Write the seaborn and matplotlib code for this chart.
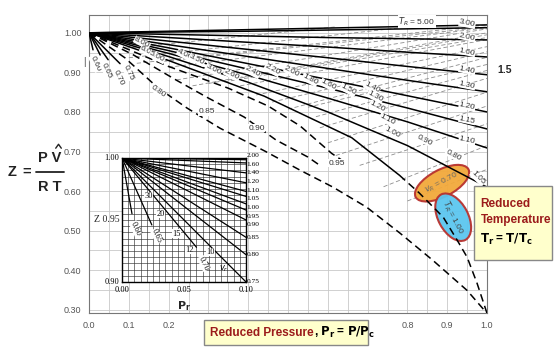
import numpy as np
import pandas as pd
import matplotlib
matplotlib.use("Agg")
import matplotlib.pyplot as plt
import seaborn as sns
from matplotlib.patches import Ellipse, Rectangle
from matplotlib.lines import Line2D

sns.set_theme(style="white")
plt.rcParams["font.family"] = ["Liberation Sans", "DejaVu Sans"]

# ---------------- main chart data ----------------
# solid isotherms T_R >= 1.05, Z at these reduced pressures
pr_grid = [0.0, 0.2, 0.4, 0.6, 0.8, 1.0]
tr_solid = ["5.00", "3.00", "2.00", "1.60", "1.40", "1.30", "1.20", "1.15", "1.10", "1.05"]
z_solid = [
    [1.0, 1.004, 1.008, 1.012, 1.016, 1.020],
    [1.0, 1.002, 1.004, 1.007, 1.010, 1.013],
    [1.0, 0.996, 0.992, 0.988, 0.985, 0.982],
    [1.0, 0.988, 0.976, 0.964, 0.951, 0.939],
    [1.0, 0.979, 0.958, 0.937, 0.915, 0.894],
    [1.0, 0.970, 0.940, 0.910, 0.880, 0.851],
    [1.0, 0.962, 0.922, 0.882, 0.841, 0.800],
    [1.0, 0.955, 0.908, 0.860, 0.810, 0.757],
    [1.0, 0.948, 0.893, 0.835, 0.775, 0.709],
    [1.0, 0.940, 0.875, 0.800, 0.715, 0.610],
]
# right-edge labels of those isotherms
tr_lab_x = [0.95, 0.95, 0.95, 0.95, 0.95, 0.95, 0.95, 0.95, 0.95, 0.977]
tr_lab_z = [1.023, 0.990, 0.952, 0.906, 0.868, 0.815, 0.780, 0.729, 0.633]

# T_R = 1.00: solid part then dashed down to the critical point
pr_tr100 = [0.0, 0.2, 0.44, 0.66, 0.78]
z_tr100 = [1.0, 0.930, 0.840, 0.735, 0.640]
pr_tr100_d = [0.78, 0.83, 0.89, 0.925, 0.95, 0.975, 1.0]
z_tr100_d = [0.640, 0.595, 0.534, 0.476, 0.433, 0.367, 0.291]

# heavy dashed lines
pr_tr095 = [0.0, 0.2, 0.35, 0.45, 0.53, 0.61, 0.64]
z_tr095 = [1.0, 0.915, 0.860, 0.815, 0.765, 0.695, 0.675]
pr_tr090 = [0.0, 0.11, 0.22, 0.30, 0.39, 0.47, 0.55, 0.58]
z_tr090 = [1.0, 0.945, 0.880, 0.835, 0.787, 0.729, 0.686, 0.665]
pr_sat = [0.0, 0.09, 0.173, 0.246, 0.329, 0.442, 0.53, 0.613, 0.698, 0.781, 0.864, 0.95, 1.0]
z_sat = [1.0, 0.937, 0.861, 0.810, 0.759, 0.701, 0.653, 0.610, 0.559, 0.494, 0.425, 0.349, 0.291]
dash_lab = ["0.80", "0.85", "0.90", "0.95"]
dash_lab_x = [0.175, 0.296, 0.422, 0.623]
dash_lab_z = [0.851, 0.800, 0.759, 0.671]

# short steep isotherms near the origin
short_tr = ["0.60", "0.65", "0.70", "0.75"]
short_pr_end = [0.010, 0.028, 0.048, 0.078]
short_z_end = [0.957, 0.944, 0.932, 0.922]
short_lab_x = [0.015, 0.043, 0.075, 0.098]
short_lab_z = [0.922, 0.905, 0.885, 0.900]

# reduced volume lines (light dashed)
vr_labels = ["8.00", "6.00", "5.00", "4.00", "3.50", "3.00", "2.60", "2.40", "2.20", "2.00",
             "1.80", "1.60", "1.50", "1.40", "1.30", "1.20", "1.10", "1.00", "0.90", "0.80", "0.70"]
vr_lab_x = [0.133, 0.148, 0.171, 0.241, 0.271, 0.312, 0.359, 0.410, 0.460, 0.510,
            0.555, 0.601, 0.651, 0.711, 0.719, 0.724, 0.749, 0.761, 0.844, 0.915, 0.920]
vr_lab_z = [0.975, 0.952, 0.939, 0.944, 0.932, 0.906, 0.894, 0.901, 0.906, 0.901,
            0.881, 0.868, 0.856, 0.861, 0.838, 0.813, 0.780, 0.747, 0.729, 0.691, 0.633]
vr_x0 = [0.09, 0.10, 0.12, 0.17, 0.20, 0.22, 0.26, 0.30, 0.34, 0.38,
         0.42, 0.46, 0.50, 0.55, 0.57, 0.58, 0.60, 0.62, 0.68, 0.74, 0.80]
vr_z0 = [0.961, 0.937, 0.923, 0.926, 0.913, 0.881, 0.866, 0.872, 0.876, 0.866,
         0.843, 0.825, 0.807, 0.812, 0.788, 0.760, 0.722, 0.690, 0.665, 0.611, 0.575]
vr_x1 = [0.62, 0.83, 1.0, 1.0, 1.0, 1.0, 1.0, 1.0, 1.0, 1.0,
         1.0, 1.0, 1.0, 1.0, 1.0, 1.0, 1.0, 1.0, 1.0, 1.0, 1.0]
vr_z1 = [1.015, 1.018, 1.020, 1.015, 1.013, 1.010, 1.000, 0.995, 0.988, 0.983,
         0.965, 0.952, 0.938, 0.920, 0.905, 0.885, 0.850, 0.815, 0.770, 0.715, 0.655]

# x tick labels hidden behind the pressure box in the picture
x_ticks = [0.0, 0.1, 0.2, 0.3, 0.4, 0.5, 0.6, 0.7, 0.8, 0.9, 1.0]
x_tick_labels = ["0.0", "0.1", "0.2", "", "", "", "", "", "0.8", "0.9", "1.0"]
y_ticks = [0.3, 0.4, 0.5, 0.6, 0.7, 0.8, 0.9, 1.0]
y_tick_labels = ["0.30", "0.40", "0.50", "0.60", "0.70", "0.80", "0.90", "1.00"]

# ---------------- inset data ----------------
in_tr = ["2.00", "1.60", "1.40", "1.20", "1.10", "1.05", "1.00", "0.95", "0.90", "0.85", "0.80", "0.75"]
in_z_end = [0.9986, 0.996, 0.988, 0.980, 0.973, 0.969, 0.963, 0.958, 0.950, 0.936, 0.922, 0.900]
in_lab_z = [1.002, 0.995, 0.988, 0.981, 0.974, 0.967, 0.960, 0.953, 0.946, 0.936, 0.922, 0.900]
in_short_tr = ["0.70", "0.65", "0.60"]
in_short_pr = [0.060, 0.024, 0.008]
in_short_z = [0.928, 0.946, 0.955]
in_short_lab_x = [0.066, 0.028, 0.011]
in_short_lab_z = [0.915, 0.937, 0.943]
in_vr = ["30", "20", "15", "12", "10"]
in_vr_x = [0.0215, 0.031, 0.044, 0.054, 0.071]
in_vr_z = [0.969, 0.955, 0.939, 0.926, 0.924]

# ---------------- figure ----------------
fig = plt.figure(figsize=(5.6, 3.58), dpi=100)
ax = fig.add_axes([0.159, 0.1257, 0.7107, 0.8324])
ax.set_xlim(0, 1.0)
ax.set_ylim(0.292, 1.045)

ax.set_xticks(x_ticks)
ax.set_xticklabels(x_tick_labels)
ax.set_yticks(y_ticks)
ax.set_yticklabels(y_tick_labels)
ax.set_xticks(np.arange(0.05, 1.0, 0.1), minor=True)
ax.set_yticks(np.arange(0.35, 1.04, 0.1), minor=True)
ax.grid(which="both", color="#c9c9c9", lw=0.6)
ax.tick_params(which="both", labelsize=6.5, colors="#555555", length=2)
ax.tick_params(axis="x", pad=3.5)
for s in ax.spines.values():
    s.set_color("#777777")
    s.set_linewidth(0.8)

# light reduced-volume dashes
vr_rows = []
for i, lab in enumerate(vr_labels):
    vr_rows.append({"curve": lab, "pr": vr_x0[i], "z": vr_z0[i]})
    vr_rows.append({"curve": lab, "pr": vr_x1[i], "z": vr_z1[i]})
sns.lineplot(data=pd.DataFrame(vr_rows), x="pr", y="z", units="curve", estimator=None,
             sort=False, color="#8c8c8c", lw=0.6, linestyle=(0, (5, 3)), ax=ax, zorder=2)

# solid isotherms
rows = []
for lab, zs in zip(tr_solid, z_solid):
    for p, z in zip(pr_grid, zs):
        rows.append({"curve": lab, "pr": p, "z": z})
for p, z in zip(pr_tr100, z_tr100):
    rows.append({"curve": "1.00", "pr": p, "z": z})
for lab, p1, z1 in zip(short_tr, short_pr_end, short_z_end):
    rows.append({"curve": "s" + lab, "pr": 0.0, "z": 1.0})
    rows.append({"curve": "s" + lab, "pr": p1, "z": z1})
sns.lineplot(data=pd.DataFrame(rows), x="pr", y="z", units="curve", estimator=None,
             sort=False, color="black", lw=1.1, ax=ax, zorder=4)

# heavy dashed lines
drows = []
for name, xs, zs in [("0.95", pr_tr095, z_tr095), ("0.90", pr_tr090, z_tr090),
                     ("sat", pr_sat, z_sat), ("1.00d", pr_tr100_d, z_tr100_d)]:
    for p, z in zip(xs, zs):
        drows.append({"curve": name, "pr": p, "z": z})
sns.lineplot(data=pd.DataFrame(drows), x="pr", y="z", units="curve", estimator=None,
             sort=False, color="black", lw=1.1, linestyle=(0, (5, 3)), ax=ax, zorder=4)
ax.set_xlabel("")
ax.set_ylabel("")

lab_kw = dict(fontsize=6, color="#333333", ha="center", va="center", zorder=5,
              bbox=dict(facecolor="white", edgecolor="none", pad=0.2))
for lab, x, z in zip(vr_labels[:-1], vr_lab_x[:-1], vr_lab_z[:-1]):
    ax.text(x, z, lab, rotation=-28, **lab_kw)
for lab, x, z in zip(tr_solid[1:], tr_lab_x[1:], tr_lab_z):
    ax.text(x, z, lab, rotation=-12 if lab != "1.05" else -45, **lab_kw)
for lab, x, z in zip(dash_lab, dash_lab_x, dash_lab_z):
    ax.text(x, z, lab, rotation=-35 if lab == "0.80" else 0, **lab_kw)
for lab, x, z in zip(short_tr, short_lab_x, short_lab_z):
    ax.text(x, z, lab, rotation=-65, **lab_kw)
ax.text(0.824, 1.028, r"$T_R$ = 5.00", **lab_kw)

# highlighted labels
ax.add_patch(Ellipse((0.887, 0.620), 0.15, 0.068, angle=28, facecolor="#F2A93B",
                     edgecolor="#B8322E", lw=1.5, alpha=0.95, zorder=3))
ax.text(0.887, 0.620, r"$v_R$ = 0.70", rotation=28, fontsize=6, color="#666666",
        ha="center", va="center", zorder=5)
ax.add_patch(Ellipse((0.915, 0.534), 0.13, 0.075, angle=-62, facecolor="#5CC6F0",
                     edgecolor="#B8322E", lw=1.5, alpha=0.95, zorder=3))
ax.text(0.915, 0.534, r"$T_R$ = 1.00", rotation=-62, fontsize=6, color="#444444",
        ha="center", va="center", zorder=5)

# ---------------- inset ----------------
ax_in = fig.add_axes([0.218, 0.2123, 0.2214, 0.3464])
ax_in.set_facecolor("white")
ax_in.set_xlim(0, 0.1)
ax_in.set_ylim(0.9, 1.0)
ax_in.set_xticks(np.arange(0, 0.1001, 0.005))
ax_in.set_yticks(np.arange(0.9, 1.0001, 0.005))
ax_in.grid(color="#333333", lw=0.45)
ax_in.tick_params(length=0, labelbottom=False, labelleft=False)
for s in ax_in.spines.values():
    s.set_color("black")
    s.set_linewidth(1.0)
irows = []
for lab, z1 in zip(in_tr, in_z_end):
    irows += [{"curve": lab, "pr": 0.0, "z": 1.0}, {"curve": lab, "pr": 0.1, "z": z1}]
for lab, p1, z1 in zip(in_short_tr, in_short_pr, in_short_z):
    irows += [{"curve": lab, "pr": 0.0, "z": 1.0}, {"curve": lab, "pr": p1, "z": z1}]
sns.lineplot(data=pd.DataFrame(irows), x="pr", y="z", units="curve", estimator=None,
             sort=False, color="black", lw=0.9, ax=ax_in, zorder=4)
ax_in.set_xlabel("")
ax_in.set_ylabel("")

serif = ["Liberation Serif", "DejaVu Serif"]
in_kw = dict(fontsize=6, family=serif, color="black", zorder=6)
for lab, z1 in zip(in_tr, in_lab_z):
    ax_in.text(0.1005, z1, lab, ha="left", va="center", fontsize=5.3, family=serif,
               color="black", zorder=6)
for lab, x, z in zip(in_short_tr, in_short_lab_x, in_short_lab_z):
    ax_in.text(x, z, lab, rotation=-65, ha="center", va="center",
               bbox=dict(facecolor="white", edgecolor="none", pad=0.1), **in_kw)
for lab, x, z in zip(in_vr, in_vr_x, in_vr_z):
    ax_in.text(x, z, lab, ha="center", va="center",
               bbox=dict(facecolor="white", edgecolor="none", pad=0.1), **in_kw)
ax_in.text(0.082, 0.911, r"$v_r$", ha="center", va="center", **in_kw)
ax_in.text(-0.002, 1.0, "1.00", ha="right", va="center", **in_kw)
ax_in.text(-0.002, 0.9, "0.90", ha="right", va="center", **in_kw)
ax_in.text(-0.002, 0.95, "Z 0.95", ha="right", va="center", fontsize=7,
           family=serif, zorder=6)
for v in [0.0, 0.05, 0.1]:
    ax_in.text(v, 0.897, f"{v:.2f}", ha="center", va="top", **in_kw)
ax_in.text(0.05, 0.886, r"$\mathbf{P_r}$", ha="center", va="top", fontsize=8,
           family=serif)

# ---------------- annotations ----------------
# Z = P V^ / R T, built from pieces so the hat on V shows
fkw = dict(fontsize=10.5, fontweight="bold", color="#222222", va="center")
fig.text(0.014, 0.519, "Z", ha="left", **fkw)
fig.text(0.040, 0.519, "=", ha="left", **fkw)
fig.text(0.089, 0.558, "P V", ha="center", **fkw)
fig.text(0.089, 0.479, "R T", ha="center", **fkw)
fig.add_artist(Line2D([0.064, 0.114], [0.519, 0.519], transform=fig.transFigure,
                      color="#222222", lw=1.3))
fig.add_artist(Line2D([0.0995, 0.1045, 0.1095], [0.586, 0.597, 0.586],
                      transform=fig.transFigure, color="#222222", lw=1.0))

fig.text(0.8875, 0.8045, "1.5", fontsize=7.5, fontweight="bold", ha="left", va="center")
fig.text(0.151, 0.827, "|", fontsize=7, color="#444444", ha="center", va="center")

red = "#9B1B1B"
fig.patches.append(Rectangle((0.364, 0.0363), 0.293, 0.0698, transform=fig.transFigure,
                             facecolor="#FFFFCC", edgecolor="#888888", lw=1.0, zorder=10))
t1 = fig.text(0.375, 0.071, "Reduced Pressure", fontsize=8.5, fontweight="bold",
              color=red, ha="left", va="center", zorder=11)
fig.canvas.draw()
bb = t1.get_window_extent(renderer=fig.canvas.get_renderer()).transformed(fig.transFigure.inverted())
fig.text(bb.x1, 0.071, r", $\mathbf{P_r}$ = $\mathbf{P/P_c}$", fontsize=8.5,
         fontweight="bold", color="black", ha="left", va="center", zorder=11)

fig.patches.append(Rectangle((0.846, 0.274), 0.139, 0.207, transform=fig.transFigure,
                             facecolor="#FFFFCC", edgecolor="#888888", lw=1.0, zorder=10))
fig.text(0.858, 0.43, "Reduced", fontsize=8.5, fontweight="bold", color=red,
         ha="left", va="center", zorder=11)
fig.text(0.858, 0.385, "Temperature", fontsize=8.5, fontweight="bold", color=red,
         ha="left", va="center", zorder=11)
fig.text(0.858, 0.33, r"$\mathbf{T_r}$ = $\mathbf{T/T_c}$", fontsize=8.5,
         fontweight="bold", color="black", ha="left", va="center", zorder=11)

fig.savefig("out.png", dpi=100)
